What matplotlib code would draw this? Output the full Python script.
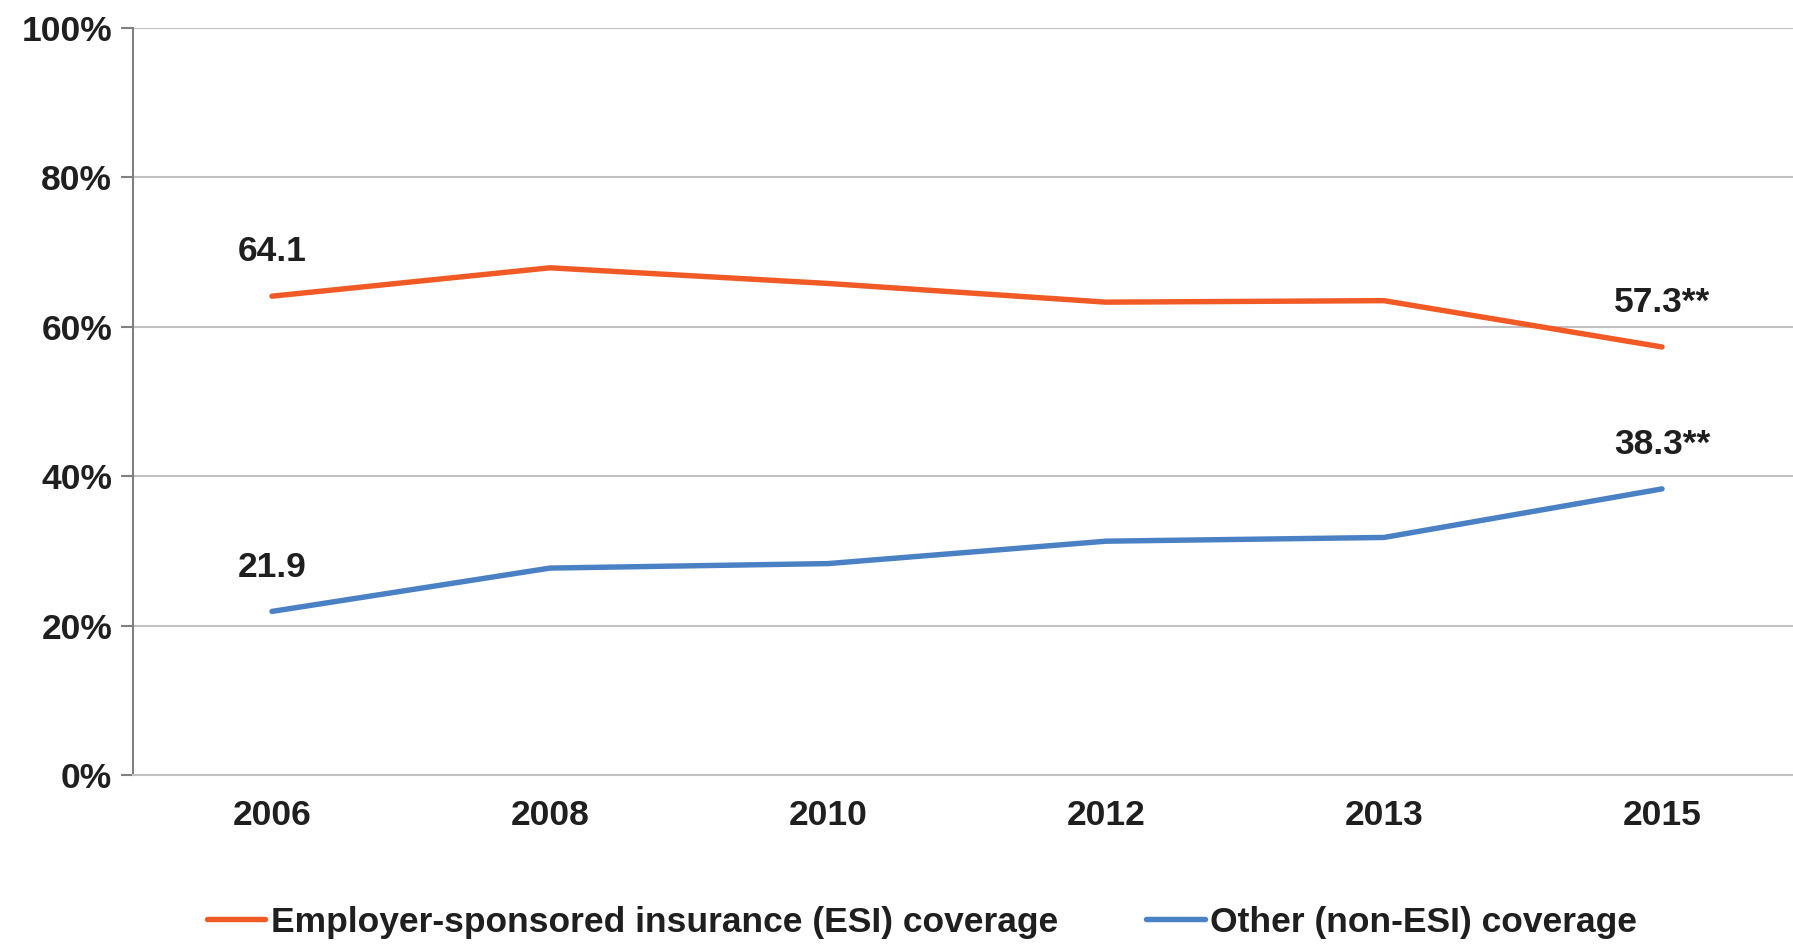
import matplotlib
matplotlib.use("Agg")
from matplotlib import pyplot as plt
from matplotlib import font_manager
import numpy as np

years = ["2006", "2008", "2010", "2012", "2013", "2015"]
esi = [64.1, 67.9, 65.8, 63.3, 63.5, 57.3]
other = [21.9, 27.7, 28.3, 31.3, 31.8, 38.3]
esi_labels = {0: "64.1", 5: "57.3**"}
other_labels = {0: "21.9", 5: "38.3**"}
yticks = [0, 20, 40, 60, 80, 100]

# narrow bold face if present, otherwise regular Liberation Sans
names = {f.name for f in font_manager.fontManager.ttflist}
narrow = "Liberation Sans Narrow" if "Liberation Sans Narrow" in names else "Liberation Sans"
plt.rcParams['font.family'] = [narrow, 'DejaVu Sans']
plt.rcParams['font.weight'] = 'bold'
FS = 25.5

orange = "#F15A24"
blue = "#4A81C4"
txt = "#1f1f1f"

W, H = 1793, 946
fig = plt.figure(figsize=(W/100, H/100), dpi=100)
# axes box in pixels: left 133, right 1801, top 28, bottom 775
ax = fig.add_axes([133/W, 1-775/H, (1801-133)/W, (775-28)/H])

x = np.arange(len(years))
ax.plot(x, esi, color=orange, lw=3.9, solid_capstyle='round', solid_joinstyle='round')
ax.plot(x, other, color=blue, lw=3.9, solid_capstyle='round', solid_joinstyle='round')

for i, s in esi_labels.items():
    ax.annotate(s, (x[i], esi[i]), xytext=(0, 20), textcoords='offset points',
                ha='center', va='bottom', fontsize=FS, color=txt, fontweight='bold')
for i, s in other_labels.items():
    ax.annotate(s, (x[i], other[i]), xytext=(0, 20), textcoords='offset points',
                ha='center', va='bottom', fontsize=FS, color=txt, fontweight='bold')

ax.set_xlim(-0.5, len(years)-0.5)
ax.set_ylim(0, 100)
ax.set_yticks(yticks)
ax.set_yticklabels([f"{v}%" for v in yticks])
ax.set_xticks(x)
ax.set_xticklabels(years)
ax.tick_params(axis='y', length=9, width=1.5, color='#808080', pad=6, labelsize=FS, labelcolor=txt)
ax.tick_params(axis='x', length=0, pad=17, labelsize=FS, labelcolor=txt)
for lab in ax.get_xticklabels() + ax.get_yticklabels():
    lab.set_fontweight('bold')

ax.grid(axis='y', color='#c0c0c0', lw=1.5)
ax.set_axisbelow(True)
for side in ['top', 'right']:
    ax.spines[side].set_visible(False)
ax.spines['left'].set_color('#808080')
ax.spines['left'].set_linewidth(1.5)
ax.spines['bottom'].set_color('#c0c0c0')
ax.spines['bottom'].set_linewidth(1.5)

handles = [plt.Line2D([], [], color=orange, lw=3.9, solid_capstyle='round'),
           plt.Line2D([], [], color=blue, lw=3.9, solid_capstyle='round')]
fig.legend(handles, ["Employer-sponsored insurance (ESI) coverage", "Other (non-ESI) coverage"],
           loc='center', bbox_to_anchor=(922/W, 1-922/H), ncol=2, frameon=False,
           prop={'size': FS, 'weight': 'bold'}, handlelength=1.65, handletextpad=0.16,
           columnspacing=2.5, labelcolor=txt)

fig.savefig("out.png", dpi=100)
